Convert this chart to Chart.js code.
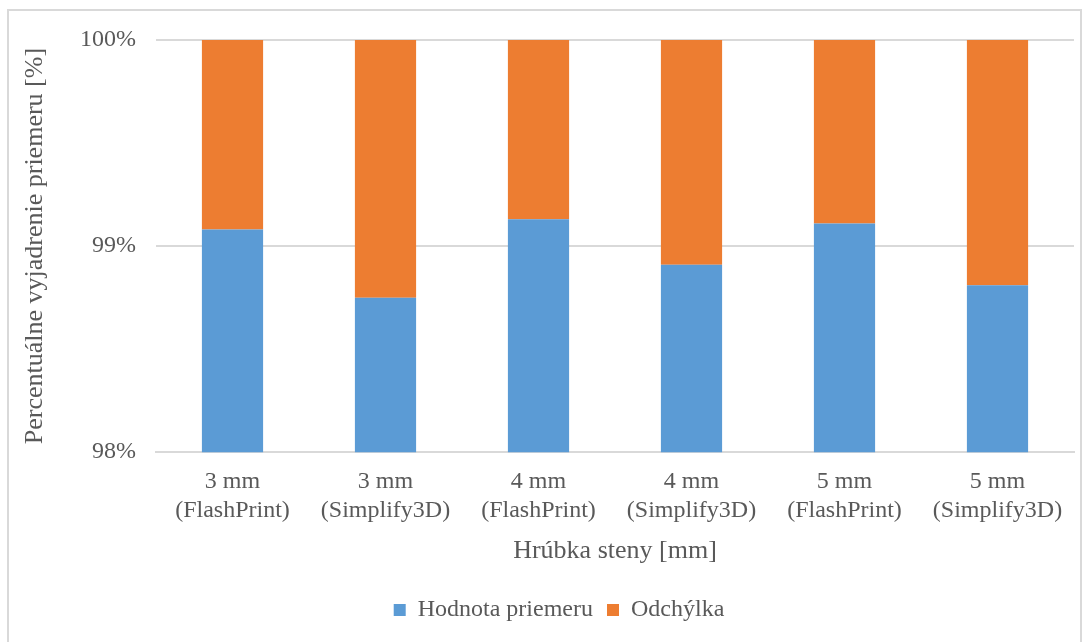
<!DOCTYPE html>
<html>
<head>
<meta charset="utf-8">
<script src="https://cdn.jsdelivr.net/npm/chart.js@4"></script>
<style>
  html, body { margin: 0; padding: 0; background: #fff; }
  #frame { position: absolute; left: 7px; top: 9px; width: 1075px; height: 660px; border: 2px solid #d9d9d9; box-sizing: border-box; }
  #wrap { position: absolute; left: 0; top: 0; width: 1090px; height: 642px; }
</style>
</head>
<body>
<div id="frame"></div>
<div id="wrap"><canvas id="chart" width="1090" height="642"></canvas></div>
<script>
const categories = [
    ['3 mm', '(FlashPrint)'],
    ['3 mm', '(Simplify3D)'],
    ['4 mm', '(FlashPrint)'],
    ['4 mm', '(Simplify3D)'],
    ['5 mm', '(FlashPrint)'],
    ['5 mm', '(Simplify3D)']
];
const diameterValues = [99.08, 98.75, 99.13, 98.91, 99.11, 98.81];
const deviationValues = [0.92, 1.25, 0.87, 1.09, 0.89, 1.19];
const yTicks = [98, 99, 100];

const textColor = '#595959';
const gridColor = '#d9d9d9';
const fontFamily = '"Liberation Serif", "DejaVu Serif", serif';

function initChart() {
    const ctx = document.getElementById('chart').getContext('2d');
    return new Chart(ctx, {
        type: 'bar',
        data: {
            labels: categories,
            datasets: [{
                label: 'Hodnota priemeru',
                data: diameterValues,
                backgroundColor: '#5b9bd5',
                borderWidth: 0,
                categoryPercentage: 1,
                barPercentage: 0.4
            }, {
                label: 'Odchýlka',
                data: deviationValues,
                backgroundColor: '#ed7d31',
                borderWidth: 0,
                categoryPercentage: 1,
                barPercentage: 0.4
            }]
        },
        options: {
            responsive: false,
            animation: false,
            // left padding is wide so the legend centres like the original
            layout: { padding: { top: 40, right: 16, left: 44, bottom: 10 } },
            plugins: {
                tooltip: { enabled: false },
                legend: {
                    position: 'bottom',
                    labels: {
                        boxWidth: 12,
                        boxHeight: 12,
                        padding: 14,
                        color: textColor,
                        font: { family: fontFamily, size: 24 }
                    }
                }
            },
            scales: {
                x: {
                    stacked: true,
                    grid: { display: false, drawTicks: false },
                    border: { display: true, color: gridColor, width: 2 },
                    ticks: {
                        color: textColor,
                        padding: 15,
                        font: { family: fontFamily, size: 24, lineHeight: 1.2 }
                    },
                    title: {
                        display: true,
                        text: 'Hrúbka steny [mm]',
                        color: textColor,
                        padding: { top: -4, bottom: 17 },
                        font: { family: fontFamily, size: 26 }
                    }
                },
                y: {
                    stacked: true,
                    min: 98,
                    max: 100,
                    afterBuildTicks: function(scale) {
                        scale.ticks = yTicks.map(v => ({ value: v }));
                    },
                    afterFit: function(scale) { scale.width = 112; },
                    grid: { color: gridColor, lineWidth: 2, drawTicks: false },
                    border: { display: false },
                    ticks: {
                        color: textColor,
                        padding: 20,
                        font: { family: fontFamily, size: 24 },
                        callback: v => v + '%'
                    },
                    title: {
                        display: true,
                        text: 'Percentuálne vyjadrenie priemeru [%]',
                        color: textColor,
                        padding: { top: -24, bottom: 0 },
                        font: { family: fontFamily, size: 26 }
                    }
                }
            }
        }
    });
}

document.addEventListener('DOMContentLoaded', initChart);
</script>
</body>
</html>
